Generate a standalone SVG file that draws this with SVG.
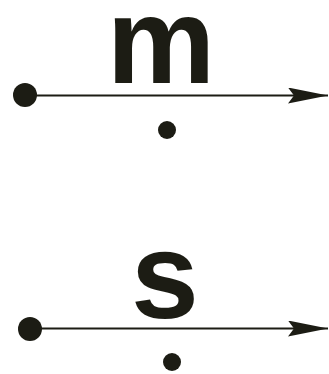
<svg xmlns="http://www.w3.org/2000/svg" width="329" height="374" viewBox="0 0 329 374">
<style>
.lbl{font-family:"Liberation Sans",Arial,sans-serif;font-weight:bold;font-size:122px;fill:#1c1c14;text-anchor:middle}
.ln{stroke:#1c1c14;stroke-width:2.2;fill:none}
.dot{fill:#1c1c14}
</style>
<defs>
<marker id="ah" markerWidth="40" markerHeight="16" refX="40" refY="8" orient="auto" markerUnits="userSpaceOnUse" viewBox="0 0 40 16">
<path d="M0,0 L40,8 L0,16 L6,8 Z" fill="#1c1c14"/>
</marker>
</defs>
<g id="m-node">
<text class="lbl" x="161" y="83">m</text>
<circle class="dot" cx="25" cy="95" r="12"/>
<circle class="dot" cx="167" cy="130" r="9"/>
</g>
<g id="s-node">
<text class="lbl" x="165" y="318">s</text>
<circle class="dot" cx="30" cy="329" r="12"/>
<circle class="dot" cx="172" cy="362" r="9"/>
</g>
<g id="connectors">
<line class="ln" x1="30" y1="95.5" x2="328" y2="95.5" marker-end="url(#ah)"/>
<line class="ln" x1="35" y1="328.5" x2="328" y2="328.5" marker-end="url(#ah)"/>
</g>
</svg>
